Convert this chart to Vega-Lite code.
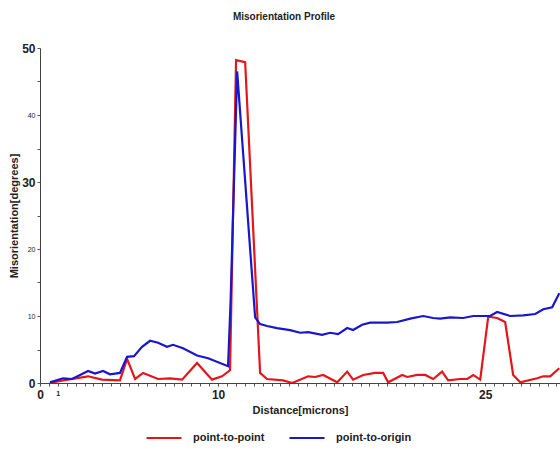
{
  "$schema": "https://vega.github.io/schema/vega-lite/v6.json",
  "autosize": "none",
  "width": 520,
  "height": 335,
  "padding": {"left": 40, "top": 48, "right": 0, "bottom": 72},
  "background": "white",
  "config": {
    "view": {"stroke": null},
    "font": "Liberation Sans"
  },
  "title": {
    "text": "Misorientation Profile",
    "fontSize": 10,
    "fontWeight": "bold",
    "font": "Liberation Sans",
    "color": "#222222",
    "frame": "group",
    "anchor": "middle",
    "dx": -16,
    "offset": 20
  },
  "data": {
    "values": [
      {"d": 0.56, "v": 0.0, "s": "point-to-point"},
      {"d": 1.29, "v": 0.4, "s": "point-to-point"},
      {"d": 2.70, "v": 1.0, "s": "point-to-point"},
      {"d": 3.48, "v": 0.5, "s": "point-to-point"},
      {"d": 4.49, "v": 0.4, "s": "point-to-point"},
      {"d": 4.89, "v": 3.6, "s": "point-to-point"},
      {"d": 5.34, "v": 0.6, "s": "point-to-point"},
      {"d": 5.79, "v": 1.5, "s": "point-to-point"},
      {"d": 6.63, "v": 0.6, "s": "point-to-point"},
      {"d": 7.30, "v": 0.7, "s": "point-to-point"},
      {"d": 7.98, "v": 0.5, "s": "point-to-point"},
      {"d": 8.82, "v": 3.0, "s": "point-to-point"},
      {"d": 9.66, "v": 0.5, "s": "point-to-point"},
      {"d": 10.22, "v": 1.0, "s": "point-to-point"},
      {"d": 10.67, "v": 1.9, "s": "point-to-point"},
      {"d": 11.01, "v": 48.2, "s": "point-to-point"},
      {"d": 11.52, "v": 47.9, "s": "point-to-point"},
      {"d": 12.36, "v": 1.5, "s": "point-to-point"},
      {"d": 12.75, "v": 0.6, "s": "point-to-point"},
      {"d": 13.65, "v": 0.4, "s": "point-to-point"},
      {"d": 14.16, "v": 0.0, "s": "point-to-point"},
      {"d": 15.06, "v": 1.0, "s": "point-to-point"},
      {"d": 15.45, "v": 0.9, "s": "point-to-point"},
      {"d": 15.90, "v": 1.2, "s": "point-to-point"},
      {"d": 16.69, "v": 0.1, "s": "point-to-point"},
      {"d": 17.25, "v": 1.7, "s": "point-to-point"},
      {"d": 17.58, "v": 0.5, "s": "point-to-point"},
      {"d": 18.15, "v": 1.2, "s": "point-to-point"},
      {"d": 18.82, "v": 1.5, "s": "point-to-point"},
      {"d": 19.27, "v": 1.5, "s": "point-to-point"},
      {"d": 19.55, "v": 0.1, "s": "point-to-point"},
      {"d": 20.34, "v": 1.2, "s": "point-to-point"},
      {"d": 20.62, "v": 0.9, "s": "point-to-point"},
      {"d": 21.18, "v": 1.2, "s": "point-to-point"},
      {"d": 21.63, "v": 1.2, "s": "point-to-point"},
      {"d": 22.08, "v": 0.6, "s": "point-to-point"},
      {"d": 22.58, "v": 1.7, "s": "point-to-point"},
      {"d": 22.92, "v": 0.4, "s": "point-to-point"},
      {"d": 23.60, "v": 0.6, "s": "point-to-point"},
      {"d": 23.99, "v": 0.6, "s": "point-to-point"},
      {"d": 24.33, "v": 1.2, "s": "point-to-point"},
      {"d": 24.72, "v": 0.5, "s": "point-to-point"},
      {"d": 25.17, "v": 9.9, "s": "point-to-point"},
      {"d": 25.67, "v": 9.7, "s": "point-to-point"},
      {"d": 26.12, "v": 9.1, "s": "point-to-point"},
      {"d": 26.57, "v": 1.2, "s": "point-to-point"},
      {"d": 26.97, "v": 0.1, "s": "point-to-point"},
      {"d": 27.92, "v": 0.7, "s": "point-to-point"},
      {"d": 28.26, "v": 1.0, "s": "point-to-point"},
      {"d": 28.65, "v": 1.0, "s": "point-to-point"},
      {"d": 29.16, "v": 2.2, "s": "point-to-point"},
      {"d": 0.56, "v": 0.1, "s": "point-to-origin"},
      {"d": 1.29, "v": 0.7, "s": "point-to-origin"},
      {"d": 1.80, "v": 0.6, "s": "point-to-origin"},
      {"d": 2.25, "v": 1.2, "s": "point-to-origin"},
      {"d": 2.70, "v": 1.8, "s": "point-to-origin"},
      {"d": 3.09, "v": 1.4, "s": "point-to-origin"},
      {"d": 3.54, "v": 1.8, "s": "point-to-origin"},
      {"d": 3.93, "v": 1.3, "s": "point-to-origin"},
      {"d": 4.49, "v": 1.5, "s": "point-to-origin"},
      {"d": 4.89, "v": 3.9, "s": "point-to-origin"},
      {"d": 5.28, "v": 4.0, "s": "point-to-origin"},
      {"d": 5.73, "v": 5.4, "s": "point-to-origin"},
      {"d": 6.18, "v": 6.3, "s": "point-to-origin"},
      {"d": 6.63, "v": 6.0, "s": "point-to-origin"},
      {"d": 7.13, "v": 5.4, "s": "point-to-origin"},
      {"d": 7.47, "v": 5.7, "s": "point-to-origin"},
      {"d": 8.03, "v": 5.2, "s": "point-to-origin"},
      {"d": 8.82, "v": 4.1, "s": "point-to-origin"},
      {"d": 9.44, "v": 3.7, "s": "point-to-origin"},
      {"d": 10.56, "v": 2.5, "s": "point-to-origin"},
      {"d": 10.70, "v": 12.0, "s": "point-to-origin"},
      {"d": 11.07, "v": 46.5, "s": "point-to-origin"},
      {"d": 12.08, "v": 9.8, "s": "point-to-origin"},
      {"d": 12.36, "v": 8.8, "s": "point-to-origin"},
      {"d": 12.75, "v": 8.5, "s": "point-to-origin"},
      {"d": 13.31, "v": 8.2, "s": "point-to-origin"},
      {"d": 14.04, "v": 7.9, "s": "point-to-origin"},
      {"d": 14.61, "v": 7.5, "s": "point-to-origin"},
      {"d": 15.06, "v": 7.6, "s": "point-to-origin"},
      {"d": 15.84, "v": 7.2, "s": "point-to-origin"},
      {"d": 16.29, "v": 7.5, "s": "point-to-origin"},
      {"d": 16.74, "v": 7.3, "s": "point-to-origin"},
      {"d": 17.25, "v": 8.2, "s": "point-to-origin"},
      {"d": 17.58, "v": 7.9, "s": "point-to-origin"},
      {"d": 18.09, "v": 8.7, "s": "point-to-origin"},
      {"d": 18.54, "v": 9.0, "s": "point-to-origin"},
      {"d": 19.49, "v": 9.0, "s": "point-to-origin"},
      {"d": 20.06, "v": 9.1, "s": "point-to-origin"},
      {"d": 20.79, "v": 9.6, "s": "point-to-origin"},
      {"d": 21.52, "v": 10.0, "s": "point-to-origin"},
      {"d": 22.08, "v": 9.7, "s": "point-to-origin"},
      {"d": 22.47, "v": 9.6, "s": "point-to-origin"},
      {"d": 23.03, "v": 9.8, "s": "point-to-origin"},
      {"d": 23.76, "v": 9.7, "s": "point-to-origin"},
      {"d": 24.33, "v": 10.0, "s": "point-to-origin"},
      {"d": 25.28, "v": 10.0, "s": "point-to-origin"},
      {"d": 25.67, "v": 10.6, "s": "point-to-origin"},
      {"d": 26.40, "v": 10.0, "s": "point-to-origin"},
      {"d": 27.13, "v": 10.1, "s": "point-to-origin"},
      {"d": 27.81, "v": 10.3, "s": "point-to-origin"},
      {"d": 28.26, "v": 11.0, "s": "point-to-origin"},
      {"d": 28.76, "v": 11.3, "s": "point-to-origin"},
      {"d": 29.16, "v": 13.4, "s": "point-to-origin"}
    ]
  },
  "mark": {"type": "line", "strokeWidth": 2.2, "clip": true},
  "encoding": {
    "x": {
      "field": "d",
      "type": "quantitative",
      "scale": {"domain": [0, 29.2], "nice": false, "zero": false},
      "axis": {
        "title": "Distance[microns]",
        "titleFont": "Liberation Sans",
        "titleFontSize": 11,
        "titleFontWeight": "bold",
        "titleColor": "#222222",
        "titlePadding": 4,
        "grid": false,
        "domainColor": "#444444",
        "tickColor": "#555555",
        "tickSize": 3,
        "values": [0,0.5,1,1.5,2,2.5,3,3.5,4,4.5,5,5.5,6,6.5,7,7.5,8,8.5,9,9.5,10,10.5,11,11.5,12,12.5,13,13.5,14,14.5,15,15.5,16,16.5,17,17.5,18,18.5,19,19.5,20,20.5,21,21.5,22,22.5,23,23.5,24,24.5,25,25.5,26,26.5,27,27.5,28,28.5,29],
        "labelExpr": "(datum.value == 0 || datum.value == 1 || datum.value == 10 || datum.value == 25) ? ('' + datum.value) : ''",
        "labelFont": "Liberation Sans",
        "labelFontWeight": "bold",
        "labelColor": "#222222",
        "labelFontSize": {"condition": {"test": "datum.value == 1", "value": 7}, "value": 12},
        "labelPadding": 3,
        "labelOverlap": false,
        "labelFlush": false
      }
    },
    "y": {
      "field": "v",
      "type": "quantitative",
      "scale": {"domain": [0, 50], "nice": false},
      "axis": {
        "title": "Misorientation[degrees]",
        "titleFont": "Liberation Sans",
        "titleFontSize": 11,
        "titleFontWeight": "bold",
        "titleColor": "#222222",
        "titlePadding": 2,
        "grid": false,
        "domainColor": "#444444",
        "tickColor": "#555555",
        "tickSize": 3,
        "values": [0,5,10,15,20,25,30,35,40,45,50],
        "labelExpr": "datum.value % 10 == 0 ? ('' + datum.value) : ''",
        "labelFont": "Liberation Sans",
        "labelColor": "#222222",
        "labelFontWeight": {"condition": {"test": "datum.value == 0 || datum.value == 30 || datum.value == 50", "value": "bold"}, "value": "normal"},
        "labelFontSize": {"condition": {"test": "datum.value == 0 || datum.value == 30 || datum.value == 50", "value": 12}, "value": 7},
        "labelPadding": 2,
        "labelOverlap": false,
        "labelFlush": false
      }
    },
    "color": {
      "field": "s",
      "type": "nominal",
      "scale": {"domain": ["point-to-point", "point-to-origin"], "range": ["#e3161b", "#1a16cc"]},
      "legend": {
        "title": null,
        "orient": "none",
        "direction": "horizontal",
        "legendX": 105,
        "legendY": 371,
        "symbolType": "stroke",
        "symbolSize": 1225,
        "symbolStrokeWidth": 2.2,
        "labelFont": "Liberation Sans",
        "labelFontSize": 11,
        "labelFontWeight": "bold",
        "labelColor": "#222222",
        "labelOffset": 10,
        "columnPadding": 20
      }
    }
  }
}
